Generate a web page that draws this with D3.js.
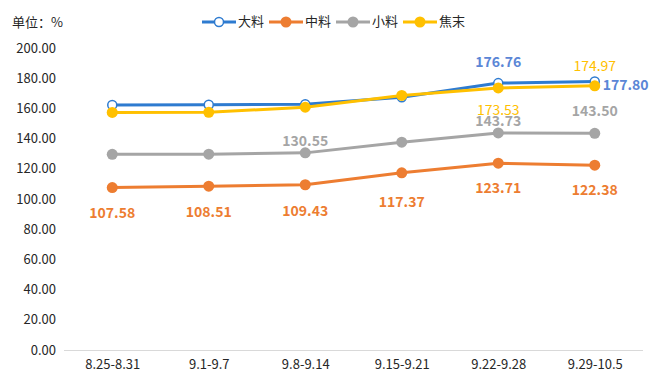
<!DOCTYPE html>
<html>
<head>
<meta charset="utf-8">
<script src="https://cdn.jsdelivr.net/npm/d3@7"></script>
<style>
  body { margin: 0; background: #fff; }
  text { font-family: "Noto Sans CJK SC", "Noto Sans", sans-serif; }
</style>
</head>
<body>
<div id="chart"></div>
<script>

// data
var categories = ["8.25-8.31", "9.1-9.7", "9.8-9.14", "9.15-9.21", "9.22-9.28", "9.29-10.5"];
var seriesNames = ["大料", "中料", "小料", "焦末"];
var daliao  = [162.3, 162.4, 162.8, 167.4, 176.76, 177.80];
var zhongliao = [107.58, 108.51, 109.43, 117.37, 123.71, 122.38];
var xiaoliao = [129.6, 129.7, 130.55, 137.6, 143.73, 143.50];
var jiaomo  = [157.3, 157.4, 160.8, 168.6, 173.53, 174.97];
var yTicks = [0, 20, 40, 60, 80, 100, 120, 140, 160, 180, 200];

// which points carry a value label
var labelIdx = [[4, 5], [0, 1, 2, 3, 4, 5], [2, 4, 5], [4, 5]];

var width = 656, height = 385;

var svg = d3.select("#chart")
  .append("svg")
    .attr("width", width)
    .attr("height", height);

// scales
var x = d3.scalePoint()
  .domain(categories)
  .range([64, 643])
  .padding(0.5);

var y = d3.scaleLinear()
  .domain([0, 200])
  .range([350, 48]);

// y axis labels, no line
var yAxis = svg.append("g")
  .attr("transform", "translate(56,0)")
  .call(d3.axisLeft(y).tickValues(yTicks).tickSize(0).tickPadding(0).tickFormat(d3.format(".2f")));
yAxis.select(".domain").remove();
yAxis.selectAll("text")
  .attr("font-size", 13)
  .attr("fill", "#262626")
  .style("font-family", "'Noto Sans CJK SC', sans-serif");

// x axis
var xAxis = svg.append("g")
  .attr("transform", "translate(0,350)")
  .call(d3.axisBottom(x).tickSize(0).tickPadding(10));
xAxis.select(".domain")
  .attr("stroke", "#d9d9d9")
  .attr("d", "M64,0.5H643");
xAxis.selectAll("text")
  .attr("font-size", 13)
  .attr("fill", "#262626")
  .style("font-family", "'Noto Sans CJK SC', sans-serif");

// unit label
svg.append("text")
  .attr("x", 12)
  .attr("y", 27)
  .attr("font-size", 13)
  .attr("fill", "#262626")
  .text("单位：%");

var colors = ["#2E7BD0", "#ED7D31", "#A5A5A5", "#FFC000"];
var labelColors = ["#5B86D6", "#ED7D31", "#A5A5A5", "#FFC000"];
var labelWeight = ["bold", "bold", "bold", "normal"];
var hollow = [true, false, false, false];
var values = [daliao, zhongliao, xiaoliao, jiaomo];

// label placement: [dx, dy] per series / point
var labelPos = [
  {4: [0, -20], 5: [8, 5, "start"]},
  {0: [0, 27], 1: [0, 27], 2: [0, 27], 3: [0, 30], 4: [0, 26], 5: [0, 26]},
  {2: [0, -11], 4: [0, -11], 5: [0, -21]},
  {4: [0, 23], 5: [0, -19]}
];

var line = d3.line()
  .x(function(d, i) { return x(categories[i]); })
  .y(function(d) { return y(d); });

values.forEach(function(vals, s) {
  var g = svg.append("g");
  g.append("path")
    .datum(vals)
    .attr("fill", "none")
    .attr("stroke", colors[s])
    .attr("stroke-width", 3)
    .attr("stroke-linejoin", "round")
    .attr("d", line);
  g.selectAll("circle")
    .data(vals)
    .enter().append("circle")
      .attr("cx", function(d, i) { return x(categories[i]); })
      .attr("cy", function(d) { return y(d); })
      .attr("r", hollow[s] ? 4.5 : 5.5)
      .attr("fill", hollow[s] ? "#fff" : colors[s])
      .attr("stroke", hollow[s] ? colors[s] : "none")
      .attr("stroke-width", 1.5);
});

// value labels drawn after lines
values.forEach(function(vals, s) {
  svg.append("g").selectAll("text")
    .data(labelIdx[s])
    .enter().append("text")
      .attr("x", function(i) { return x(categories[i]) + labelPos[s][i][0]; })
      .attr("y", function(i) { return y(vals[i]) + labelPos[s][i][1]; })
      .attr("text-anchor", function(i) { return labelPos[s][i][2] || "middle"; })
      .attr("dominant-baseline", "middle")
      .attr("font-size", 14)
      .attr("font-weight", labelWeight[s])
      .attr("fill", labelColors[s])
      .text(function(i) { return vals[i].toFixed(2); });
});

// legend
var legendX = [202, 269, 336, 403];
var legend = svg.append("g").attr("transform", "translate(0,22)");
seriesNames.forEach(function(name, s) {
  var lg = legend.append("g").attr("transform", "translate(" + legendX[s] + ",0)");
  lg.append("line")
    .attr("x1", 0).attr("x2", 34)
    .attr("stroke", colors[s])
    .attr("stroke-width", 3);
  lg.append("circle")
    .attr("cx", 17)
    .attr("r", hollow[s] ? 4.5 : 5.5)
    .attr("fill", hollow[s] ? "#fff" : colors[s])
    .attr("stroke", hollow[s] ? colors[s] : "none")
    .attr("stroke-width", 1.5);
  lg.append("text")
    .attr("x", 36)
    .attr("y", 0)
    .attr("dominant-baseline", "middle")
    .attr("font-size", 13)
    .attr("fill", "#262626")
    .text(name);
});

</script>
</body>
</html>
